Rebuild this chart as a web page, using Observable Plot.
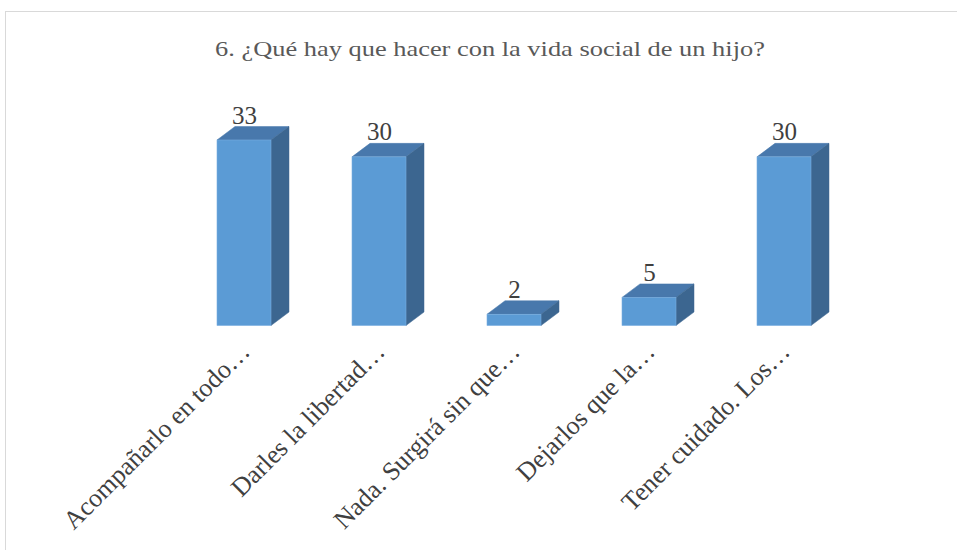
<!DOCTYPE html>
<html>
<head>
<meta charset="utf-8">
<script src="https://cdn.jsdelivr.net/npm/d3@7"></script>
<script src="https://cdn.jsdelivr.net/npm/@observablehq/plot@0.6"></script>
<style>
  html, body { margin: 0; padding: 0; background: #fff; width: 957px; height: 550px; overflow: hidden; }
  #frame { position: absolute; left: 5px; top: 11px; width: 1000px; height: 600px; border: 1.5px solid #d9d9d9; box-sizing: border-box; pointer-events: none; }
  #wrap { position: absolute; left: 0; top: 0; width: 957px; }
  #title { position: relative; height: 80px; width: 957px; }
  #title span { position: absolute; left: 490px; top: 36px; transform: translateX(-50%) scaleX(1.2); white-space: nowrap;
    font-family: "Liberation Serif", "Times New Roman", serif; font-size: 22px; color: #595959; }
  svg { display: block; }
</style>
</head>
<body>
<div id="frame"></div>
<div id="wrap">
  <div id="title"><span>6. ¿Qué hay que hacer con la vida social de un hijo?</span></div>
  <div id="chart"></div>
</div>
<script>
const categories = ["Acompañarlo en todo…", "Darles la libertad…", "Nada. Surgirá sin que…", "Dejarlos que la…", "Tener cuidado. Los…"];
const values = [33, 30, 2, 5, 30];

const data = categories.map((label, i) => ({label, value: values[i]}));

const DX = 18, DY = 13.5;
const FRONT = "#5b9bd5", TOP = "#4878ac", SIDE = "#3c6690";

function depthFaces(index, scales) {
  const g = d3.create("svg:g");
  const x = scales.x, y = scales.y;
  const bw = typeof x.bandwidth === "function" ? x.bandwidth() : x.bandwidth;
  for (const i of index) {
    const d = data[i];
    const x0 = x(d.label), x1 = x0 + bw, yt = y(d.value), yb = y(0);
    g.append("polygon")
      .attr("points", [[x0, yt], [x1, yt], [x1 + DX, yt - DY], [x0 + DX, yt - DY]].map(p => p.join(",")).join(" "))
      .attr("fill", TOP).attr("stroke", TOP).attr("stroke-width", 0.5);
    g.append("polygon")
      .attr("points", [[x1, yt], [x1 + DX, yt - DY], [x1 + DX, yb - DY], [x1, yb]].map(p => p.join(",")).join(" "))
      .attr("fill", SIDE).attr("stroke", SIDE).attr("stroke-width", 0.5);
  }
  return g.node();
}

const plot = Plot.plot({
  width: 957,
  height: 470,
  margin: 0,
  x: {domain: categories, range: [136, 892], padding: 0.6, axis: null},
  y: {domain: [0, 33], range: [245.5, 60], axis: null},
  marks: [
    Plot.barY(data, {x: "label", y: "value", render: depthFaces}),
    Plot.barY(data, {x: "label", y: "value", fill: FRONT, stroke: "#7aaee0", strokeWidth: 0.6}),
    Plot.text(data, {x: "label", y: "value", text: d => String(d.value), dy: -17, lineAnchor: "bottom",
      fontSize: 25, fontFamily: "Liberation Serif", fill: "#404040"}),
    Plot.text(data, {x: "label", y: () => 0, text: "label", rotate: -45, textAnchor: "end", lineAnchor: "bottom",
      dx: 7, dy: 27, fontSize: 26, fontFamily: "Liberation Serif", fill: "#404040"})
  ]
});
document.getElementById("chart").appendChild(plot);
</script>
</body>
</html>
